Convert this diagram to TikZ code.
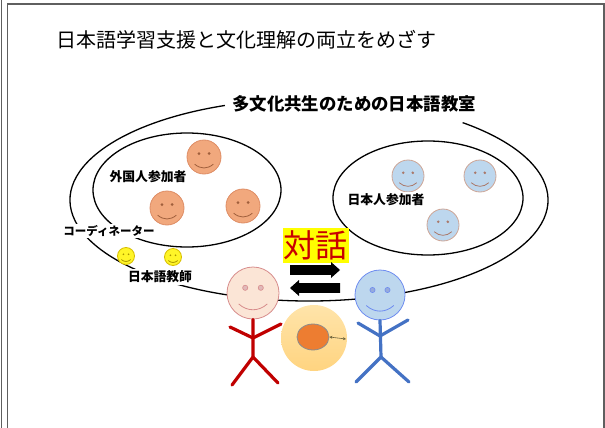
\documentclass[tikz,border=0pt]{standalone}
\usepackage{fontspec}
\newfontfamily\jp{Noto Sans CJK JP}
\usetikzlibrary{calc,shapes.geometric,arrows.meta}

\definecolor{framegray}{RGB}{95,95,95}
\definecolor{peachfill}{RGB}{241,168,125}
\definecolor{peachline}{RGB}{222,140,100}
\definecolor{peachfeat}{RGB}{160,95,60}
\definecolor{skyfill}{RGB}{189,215,238}
\definecolor{skyline}{RGB}{205,165,150}
\definecolor{skyfeat}{RGB}{170,120,105}
\definecolor{lemonfill}{RGB}{255,245,40}
\definecolor{lemonline}{RGB}{215,190,0}
\definecolor{lemonfeat}{RGB}{170,150,0}
\definecolor{pinkfill}{RGB}{251,229,214}
\definecolor{pinkline}{RGB}{215,140,140}
\definecolor{pinkeye}{RGB}{225,185,185}
\definecolor{blueheadline}{RGB}{110,140,240}
\definecolor{blueeye}{RGB}{150,170,220}
\definecolor{darkred}{RGB}{192,0,0}
\definecolor{stickblue}{RGB}{68,114,196}
\definecolor{cultureorange}{RGB}{237,125,49}
\definecolor{halotop}{RGB}{255,228,170}
\definecolor{halobottom}{RGB}{255,212,128}
\definecolor{dialogred}{RGB}{200,0,0}
\definecolor{dialogyellow}{RGB}{255,255,0}
\definecolor{tinyarrow}{RGB}{110,100,60}

\tikzset{
  facebase/.style={circle, inner sep=0pt, line width=0.8pt},
  ring/.style={draw=black, line width=1.3pt},
  tag/.style={font=\jp\bfseries\fontsize{12.8}{15}\selectfont, fill=white, inner sep=1.5pt},
  limb/.style={line width=3.2pt, line cap=round, line join=round},
  frameline/.style={draw=framegray, line width=1.4pt},
}

% smiley: name, centre, radius, fill, outline, smile colour, eye style, eye radius
\newcommand\smileface[8]{%
  \node[facebase, minimum size=2*#3, fill=#4, draw=#5] (#1) at (#2) {};
  \path[#7] ($(#1.center)+(-0.3*#3,-0.2*#3)$) circle[radius=#8]
            ($(#1.center)+(0.3*#3,-0.2*#3)$) circle[radius=#8];
  \draw[#6, line width=0.8pt] ($(#1.center)+(-0.55*#3,0.42*#3)$)
    .. controls ($(#1.center)+(-0.22*#3,0.72*#3)$) and ($(#1.center)+(0.22*#3,0.72*#3)$)
    .. ($(#1.center)+(0.55*#3,0.42*#3)$);
}

% block arrow from #1 along x by #2 (sign gives direction)
\newcommand\blockarrow[2]{%
  \fill[black] ($(#1)+(0,-4.8)$) -- ($(#1)+(0.82*#2,-4.8)$) -- ($(#1)+(0.82*#2,-8)$)
    -- ($(#1)+(#2,0)$) -- ($(#1)+(0.82*#2,8)$) -- ($(#1)+(0.82*#2,4.8)$)
    -- ($(#1)+(0,4.8)$) -- cycle;
}

\begin{document}
\begin{tikzpicture}[x=1pt,y=-1pt]
\useasboundingbox (0,0) rectangle (605,428);

% page frame
\draw[frameline] (1.5,0) -- (1.5,428);
\draw[frameline] (7.5,428) -- (7.5,4) -- (604,4) -- (604,428);

% title
\node[anchor=west, inner sep=0pt, font=\jp\fontsize{20}{24}\selectfont] (title) at (56,40)
  {日本語学習支援と文化理解の両立をめざす};

% classroom ellipse, open at the top for its label
\draw[ring] (309,200) ++(249.4:239 and 101)
  arc[start angle=249.4, end angle=-50, x radius=239, y radius=101];
\node[font=\jp\bfseries\fontsize{17.4}{20}\selectfont, inner sep=0pt] (classroom) at (354,104)
  {多文化共生のための日本語教室};

% participant groups
\node[ring, ellipse, minimum width=188, minimum height=114, inner sep=0pt] (foreign) at (187,190) {};
\node[ring, ellipse, minimum width=190, minimum height=114, inner sep=0pt] (japanese) at (428,198) {};

\smileface{fa}{204,157}{17}{peachfill}{peachline}{peachfeat}{fill=peachfeat}{1.5}
\smileface{fb}{167,208}{17}{peachfill}{peachline}{peachfeat}{fill=peachfeat}{1.5}
\smileface{fc}{243,206}{17}{peachfill}{peachline}{peachfeat}{fill=peachfeat}{1.5}
\node[tag] (foreignlbl) at (148,177) {外国人参加者};

\smileface{ja}{408,176}{16}{skyfill}{skyline}{skyfeat}{fill=skyfeat}{1.4}
\smileface{jb}{480,176}{16}{skyfill}{skyline}{skyfeat}{fill=skyfeat}{1.4}
\smileface{jc}{443,225}{16}{skyfill}{skyline}{skyfeat}{fill=skyfeat}{1.4}
\node[tag] (japaneselbl) at (386,200) {日本人参加者};

% coordinator and teachers
\node[tag, font=\jp\bfseries\fontsize{11.5}{14}\selectfont] (coord) at (109,231) {コーディネーター};
\smileface{ta}{126,256}{8.5}{lemonfill}{lemonline}{lemonfeat}{fill=lemonfeat}{0.9}
\smileface{tb}{173,257}{8.5}{lemonfill}{lemonline}{lemonfeat}{fill=lemonfeat}{0.9}
\node[tag] (teacher) at (160,277) {日本語教師};

% dialogue
\node[fill=dialogyellow, text=dialogred, inner sep=1pt, minimum width=65, minimum height=35,
  font=\jp\fontsize{32}{34}\selectfont] (dialog) at (315.5,245.5) {対話};
\coordinate (rtail) at (290,270);
\coordinate (ltail) at (340,288);
\blockarrow{rtail}{50}
\blockarrow{ltail}{-50}

% culture between the two people
\node[circle, minimum size=66, inner sep=0pt, top color=halotop, bottom color=halobottom] (halo) at (314,338) {};
\node[ellipse, minimum width=32, minimum height=26, inner sep=0pt, fill=cultureorange,
  draw=black!45, line width=0.8pt] (culture) at (313,337) {};
\coordinate (haloedge) at (346,339);
\draw[tinyarrow, line width=0.6pt, {Stealth[length=3pt,width=3pt]}-{Stealth[length=3pt,width=3pt]}]
  (culture.east) -- (haloedge);

% foreign participant
\smileface{redhead}{253,293}{26}{pinkfill}{pinkline}{pinkline}{fill=pinkeye, draw=pinkline, line width=0.6pt}{2.6}
\draw[limb, darkred] (redhead.south) -- (253,357) -- (232,385);
\draw[limb, darkred] (253,357) -- (278,383);
\draw[limb, darkred] (230,327) -- (253,338) -- (281,324);

% japanese participant
\smileface{bluehead}{380,295}{25}{skyfill}{blueheadline}{blueheadline}{fill=blueeye, draw=blueheadline, line width=0.6pt}{2.6}
\draw[limb, stickblue] (bluehead.south) -- (381,357) -- (356,382);
\draw[limb, stickblue] (381,357) -- (409,382);
\draw[limb, stickblue] (358,323) -- (380,336) -- (408,320);
\end{tikzpicture}
\end{document}
